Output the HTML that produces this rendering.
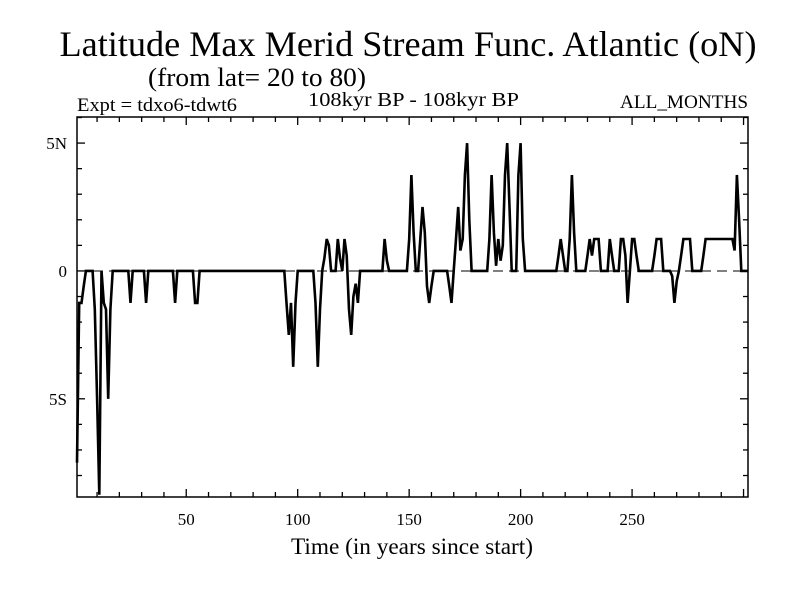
<!DOCTYPE html>
<html><head><meta charset="utf-8"><style>
body{margin:0;background:#fff}
svg{display:block;font-family:"Liberation Serif",serif}
</style></head><body>
<svg id="chart" width="800" height="600" viewBox="0 0 800 600">
<rect width="800" height="600" fill="#fff"/>
<text x="408" y="56" font-size="36" text-anchor="middle" textLength="697" lengthAdjust="spacingAndGlyphs">Latitude Max Merid Stream Func. Atlantic (oN)</text>
<text x="257" y="86" font-size="26" text-anchor="middle" textLength="218" lengthAdjust="spacingAndGlyphs">(from lat= 20 to 80)</text>
<text x="77" y="111" font-size="19" textLength="160" lengthAdjust="spacingAndGlyphs">Expt = tdxo6-tdwt6</text>
<text x="308" y="106" font-size="20" textLength="211" lengthAdjust="spacingAndGlyphs">108kyr BP - 108kyr BP</text>
<text x="620" y="108" font-size="19" textLength="128" lengthAdjust="spacingAndGlyphs">ALL_MONTHS</text>
<g id="axes"></g>
<g id="plot"></g>
<rect x="77" y="117" width="671" height="380" fill="none" stroke="#000" stroke-width="1.5"/>
<text x="291" y="554" font-size="23" textLength="242" lengthAdjust="spacingAndGlyphs">Time (in years since start)</text>
</svg>
<script>
const xTicks = [50,100,150,200,250];
const yTickValues = [5,0,-5];
const yTickLabels = ["5N","0","5S"];
const values = [
-7.5,-1.25,-1.25,-0.6,0,0,0,0,-1.5,-5,
-8.75,0,-1.25,-1.5,-5,-1.5,0,0,0,0,
0,0,0,0,-1.25,0,0,0,0,0,
0,-1.25,0,0,0,0,0,0,0,0,
0,0,0,0,-1.25,0,0,0,0,0,
0,0,0,-1.25,-1.25,0,0,0,0,0,
0,0,0,0,0,0,0,0,0,0,
0,0,0,0,0,0,0,0,0,0,
0,0,0,0,0,0,0,0,0,0,
0,0,0,0,-1.25,-2.5,-1.25,-3.75,-1.25,0,
0,0,0,0,0,0,0,-1.25,-3.75,-1.5,
0,0.5,1.25,1.0,0,0,0,1.25,0.5,0,
1.25,0.6,-1.5,-2.5,-1.0,-0.5,-1.25,0,0,0,
0,0,0,0,0,0,0,0,1.25,0.4,
0,0,0,0,0,0,0,0,0,1.25,
3.75,1.5,0,0,1.25,2.5,1.5,-0.6,-1.25,-0.6,
0,0,0,0,0,0,0,-0.6,-1.25,0,
1.25,2.5,0.8,1.25,3.75,5,2.0,0,0,0,
0,0,0,0,0,1.25,3.75,1.5,0.2,1.25,
0.4,1.0,3.75,5,2.5,0,0,0,3.75,5,
1.25,0,0,0,0,0,0,0,0,0,
0,0,0,0,0,0,0.6,1.25,0.6,0,
0,1.25,3.75,1.5,0,0,0,0,0,0.6,
1.25,0.6,1.25,1.25,1.25,0,0,0,0,1.25,
0.6,0,0,0,1.25,1.25,0.6,-1.25,0,1.25,
1.25,0.6,0,0,0,0,0,0,0,0.6,
1.25,1.25,1.25,0,0,0,0,-0.2,-1.25,-0.4,
0,0.6,1.25,1.25,1.25,1.25,0,0,0,0,
0,0.6,1.25,1.25,1.25,1.25,1.25,1.25,1.25,1.25,
1.25,1.25,1.25,1.25,1.25,0.8,3.75,2.0,0,0,
0,0
];
const years = values.map((v,i)=>i+1);

const NS='http://www.w3.org/2000/svg';
const X0=77,X1=748,Y0=117,Y1=497;
const xMin=1,xMax=302,yMin=-8.84,yMax=6.02;
function xs(v){return X0+(v-xMin)/(xMax-xMin)*(X1-X0);}
function ys(v){return Y1-(v-yMin)/(yMax-yMin)*(Y1-Y0);}
function mk(tag,attrs,parent){const e=document.createElementNS(NS,tag);for(const k in attrs)e.setAttribute(k,attrs[k]);parent.appendChild(e);return e;}
const axes=document.getElementById('axes'), plot=document.getElementById('plot');

for(let t=10;t<=300;t+=10){
  const x=xs(t), len=(t%50===0)?8:5;
  const tb=mk('line',{x1:x,x2:x,y1:Y1,y2:Y1-len,stroke:'#000','stroke-width':1.3},axes);
  
  
  const tt=mk('line',{x1:x,x2:x,y1:Y0,y2:Y0+len,stroke:'#000','stroke-width':1.3},axes);
  
  
}
xTicks.forEach(t=>{
  const e=mk('text',{x:xs(t),y:525,'font-size':17,'text-anchor':'middle'},axes);
  e.textContent=t;
  
  
});
for(let v=-8;v<=6;v++){
  const y=ys(v), len=(v%5===0)?8:5;
  const tl=mk('line',{x1:X0,x2:X0+len,y1:y,y2:y,stroke:'#000','stroke-width':1.3},axes);
  
  
  const tr=mk('line',{x1:X1,x2:X1-len,y1:y,y2:y,stroke:'#000','stroke-width':1.3},axes);
  
  
}
yTickValues.forEach((v,i)=>{
  const e=mk('text',{x:67,y:ys(v)+6,'font-size':17,'text-anchor':'end'},axes);
  e.textContent=yTickLabels[i];
  
  
});
const z=mk('line',{x1:X0,x2:X1,y1:ys(0),y2:ys(0),stroke:'#000','stroke-dasharray':'10,6'},plot);


const pts=years.map((yr,i)=>xs(yr).toFixed(1)+','+ys(values[i]).toFixed(1)).join(' ');
const pl=mk('polyline',{points:pts,fill:'none',stroke:'#000','stroke-width':2.6,'stroke-linejoin':'miter'},plot);


</script>
</body></html>
